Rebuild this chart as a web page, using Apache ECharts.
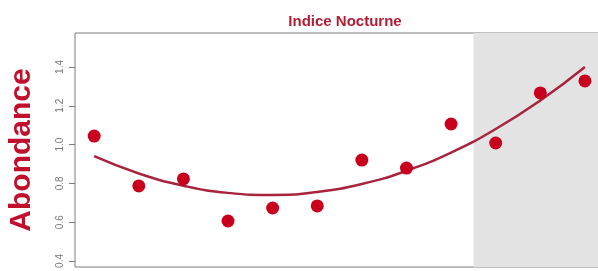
<!DOCTYPE html>
<html lang="fr">
<head>
    <meta charset="UTF-8">
    <title>Indice Nocturne</title>
    <script src="https://cdn.jsdelivr.net/npm/echarts@6/dist/echarts.min.js"></script>
    <style>
        html, body { margin: 0; padding: 0; background: #fff; }
    </style>
</head>
<body>
    <div id="main" style="width:598px;height:271px;"></div>
</body>
<script>
    // années (index) et valeurs
    var years = [1, 2, 3, 4, 5, 6, 7, 8, 9, 10, 11, 12];
    var abondance = [1.044, 0.787, 0.823, 0.606, 0.673, 0.684, 0.92, 0.879, 1.106, 1.008, 1.266, 1.328];
    // courbe ajustée
    var ajustement = [0.94, 0.851, 0.788, 0.751, 0.74, 0.756, 0.797, 0.865, 0.959, 1.08, 1.227, 1.40];
    var yTicks = [0.4, 0.6, 0.8, 1.0, 1.2, 1.4];
    var debutGris = 9.5;

    var myChart = echarts.init(document.getElementById('main'));

    var rouge = '#C8001E';
    var rougeFonce = '#A8233D';

    var option = {
        animation: false,
        title: {
            text: 'Indice Nocturne',
            left: 340,
            textAlign: 'center',
            top: 9,
            textStyle: {
                color: '#B01E36',
                fontFamily: 'Liberation Sans',
                fontWeight: 'bold',
                fontSize: 15
            }
        },
        grid: {
            left: 75,
            top: 33,
            width: 530,
            bottom: 4,
            containLabel: false,
            outerBoundsMode: 'none',
            show: true,
            borderColor: '#7d7d7d',
            borderWidth: 1,
            backgroundColor: '#fff'
        },
        xAxis: {
            type: 'value',
            min: 0.57,
            max: 12.45,
            axisLine: {show: false},
            axisTick: {show: false},
            axisLabel: {show: false},
            splitLine: {show: false}
        },
        yAxis: {
            type: 'value',
            min: 0.369,
            max: 1.575,
            name: 'Abondance',
            nameLocation: 'middle',
            nameRotate: 90,
            nameGap: 38,
            nameTextStyle: {
                color: '#C0102C',
                fontFamily: 'Liberation Sans',
                fontWeight: 'bold',
                fontSize: 30
            },
            axisLine: {show: false},
            axisTick: {
                show: true,
                customValues: yTicks,
                length: 6,
                lineStyle: {color: '#7d7d7d'}
            },
            axisLabel: {
                customValues: yTicks,
                rotate: 90,
                margin: 10,
                color: '#777',
                fontSize: 10,
                fontFamily: 'Liberation Sans',
                formatter: function (v) { return v.toFixed(1); }
            },
            splitLine: {show: false}
        },
        series: [
            {
                name: 'ajustement',
                type: 'line',
                data: years.map(function (x, i) { return [x, ajustement[i]]; }),
                smooth: true,
                showSymbol: false,
                lineStyle: {color: rougeFonce, width: 2.5},
                markArea: {
                    silent: true,
                    itemStyle: {color: '#E3E3E3'},
                    data: [[{xAxis: debutGris}, {xAxis: 12.45}]]
                },
                z: 2
            },
            {
                name: 'abondance',
                type: 'scatter',
                data: years.map(function (x, i) { return [x, abondance[i]]; }),
                symbolSize: 13,
                itemStyle: {color: rouge, opacity: 1},
                z: 3
            }
        ]
    };

    myChart.setOption(option);
</script>
</html>
